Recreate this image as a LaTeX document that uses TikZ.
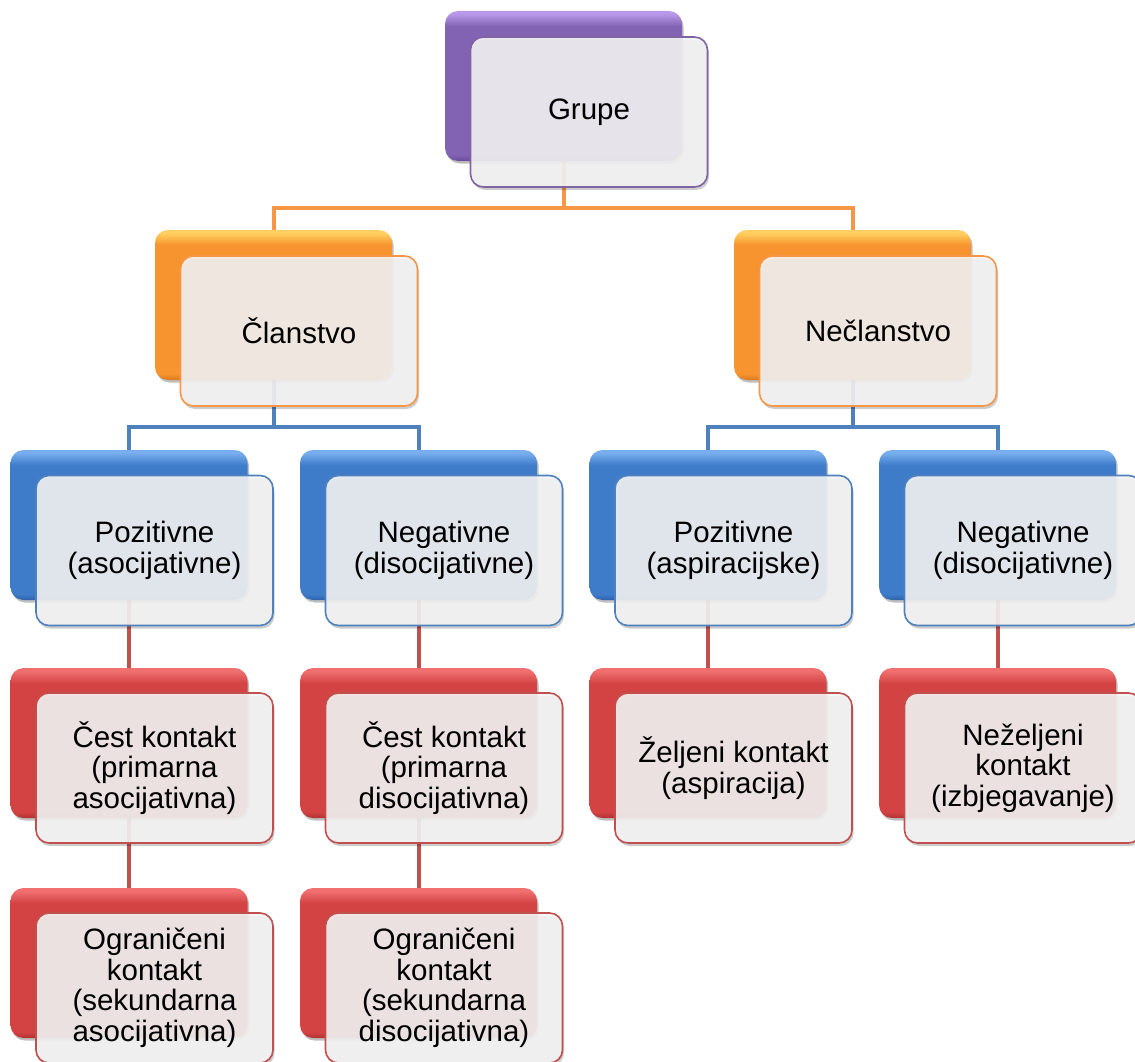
\documentclass[tikz,border=0pt]{standalone}
\usepackage{fontspec}
\setmainfont{Liberation Sans}
\usetikzlibrary{shadows,backgrounds}
\definecolor{pur}{HTML}{8262B2}
\definecolor{purL}{HTML}{B898E8}
\definecolor{purD}{HTML}{6A4C98}
\definecolor{purB}{HTML}{8064A2}
\definecolor{ora}{HTML}{F7942F}
\definecolor{oraL}{HTML}{FFD060}
\definecolor{oraD}{HTML}{D9771E}
\definecolor{oraB}{HTML}{F79646}
\definecolor{blu}{HTML}{3E7CCA}
\definecolor{bluL}{HTML}{78AEEE}
\definecolor{bluD}{HTML}{2D62AA}
\definecolor{bluB}{HTML}{4F81BD}
\definecolor{red}{HTML}{D44343}
\definecolor{redL}{HTML}{F07070}
\definecolor{redD}{HTML}{B03232}
\definecolor{redB}{HTML}{C0504D}
\definecolor{frontfill}{HTML}{F4F4F4}
\pgfdeclareverticalshading{purshade}{100bp}{color(0bp)=(purD); color(25bp)=(purD); color(27bp)=(pur); color(70bp)=(pur); color(74bp)=(purL); color(100bp)=(purL)}
\pgfdeclareverticalshading{orashade}{100bp}{color(0bp)=(oraD); color(25bp)=(oraD); color(27bp)=(ora); color(70bp)=(ora); color(74bp)=(oraL); color(100bp)=(oraL)}
\pgfdeclareverticalshading{blushade}{100bp}{color(0bp)=(bluD); color(25bp)=(bluD); color(27bp)=(blu); color(70bp)=(blu); color(74bp)=(bluL); color(100bp)=(bluL)}
\pgfdeclareverticalshading{redshade}{100bp}{color(0bp)=(redD); color(25bp)=(redD); color(27bp)=(red); color(70bp)=(red); color(74bp)=(redL); color(100bp)=(redL)}
\tikzset{
  backbox/.style={rounded corners=13pt, minimum width=237pt, minimum height=150pt,
    inner sep=0pt, draw=none,
    drop shadow={shadow xshift=1.5pt, shadow yshift=-2.5pt, opacity=0.25, fill=black}},
  bk/.style={backbox, shading=#1shade},
  frontbox/.style={rounded corners=13pt, minimum width=237pt, minimum height=150pt,
    inner sep=0pt, fill=frontfill, fill opacity=0.9, text opacity=1, line width=1.6pt,
    align=center, font=\fontsize{29.5}{30.5}\selectfont,
    drop shadow={shadow xshift=1.5pt, shadow yshift=-3pt, opacity=0.2, fill=black}},
  fr/.style={frontbox, draw=#1B},
  conn/.style={line width=4pt},
}
\begin{document}
\begin{tikzpicture}[x=1pt,y=-1pt]
\useasboundingbox (0,0) rectangle (1135,1062);
% level 1
\node[bk=pur] (gb) at (563.5,86) {};
\node[fr=pur] (g) at (589,112) {Grupe};
% level 2
\node[bk=ora] (cb) at (273.5,305) {};
\node[fr=ora] (c) at (299,331) {Članstvo};
\node[bk=ora] (nb) at (852.5,305) {};
\node[fr=ora] (n) at (878,331) {Nečlanstvo};
% level 3
\node[bk=blu] (p1b) at (129,525) {};
\node[fr=blu] (p1) at (154.5,550.5) {Pozitivne\\(asocijativne)};
\node[bk=blu] (p2b) at (418.5,525) {};
\node[fr=blu] (p2) at (444,550.5) {Negativne\\(disocijativne)};
\node[bk=blu] (p3b) at (708,525) {};
\node[fr=blu] (p3) at (733.5,550.5) {Pozitivne\\(aspiracijske)};
\node[bk=blu] (p4b) at (997.5,525) {};
\node[fr=blu] (p4) at (1023,550.5) {Negativne\\(disocijativne)};
% level 4
\node[bk=red] (r1b) at (129,743) {};
\node[fr=red] (r1) at (154.5,768) {Čest kontakt\\(primarna\\asocijativna)};
\node[bk=red] (r2b) at (418.5,743) {};
\node[fr=red] (r2) at (444,768) {Čest kontakt\\(primarna\\disocijativna)};
\node[bk=red] (r3b) at (708,743) {};
\node[fr=red] (r3) at (733.5,768) {Željeni kontakt\\(aspiracija)};
\node[bk=red] (r4b) at (997.5,743) {};
\node[fr=red] (r4) at (1023,768) {Neželjeni\\kontakt\\(izbjegavanje)};
% level 5
\node[bk=red] (s1b) at (129,963) {};
\node[fr=red] (s1) at (154.5,988) {Ograničeni\\kontakt\\(sekundarna\\asocijativna)};
\node[bk=red] (s2b) at (418.5,963) {};
\node[fr=red] (s2) at (444,988) {Ograničeni\\kontakt\\(sekundarna\\disocijativna)};
% connectors
\coordinate (oh) at (0,208);
\coordinate (bh) at (0,427);
\begin{scope}[on background layer]
\draw[conn, draw=oraB] (gb.center) -- (gb.center |- oh) -| (cb.center);
\draw[conn, draw=oraB] (gb.center |- oh) -| (nb.center);
\draw[conn, draw=bluB] (cb.center) -- (cb.center |- bh) -| (p1b.center);
\draw[conn, draw=bluB] (cb.center |- bh) -| (p2b.center);
\draw[conn, draw=bluB] (nb.center) -- (nb.center |- bh) -| (p3b.center);
\draw[conn, draw=bluB] (nb.center |- bh) -| (p4b.center);
\draw[conn, draw=redB] (p1b.center) -- (r1b.center);
\draw[conn, draw=redB] (r1b.center) -- (s1b.center);
\draw[conn, draw=redB] (p2b.center) -- (r2b.center);
\draw[conn, draw=redB] (r2b.center) -- (s2b.center);
\draw[conn, draw=redB] (p3b.center) -- (r3b.center);
\draw[conn, draw=redB] (p4b.center) -- (r4b.center);
\end{scope}
\end{tikzpicture}
\end{document}
